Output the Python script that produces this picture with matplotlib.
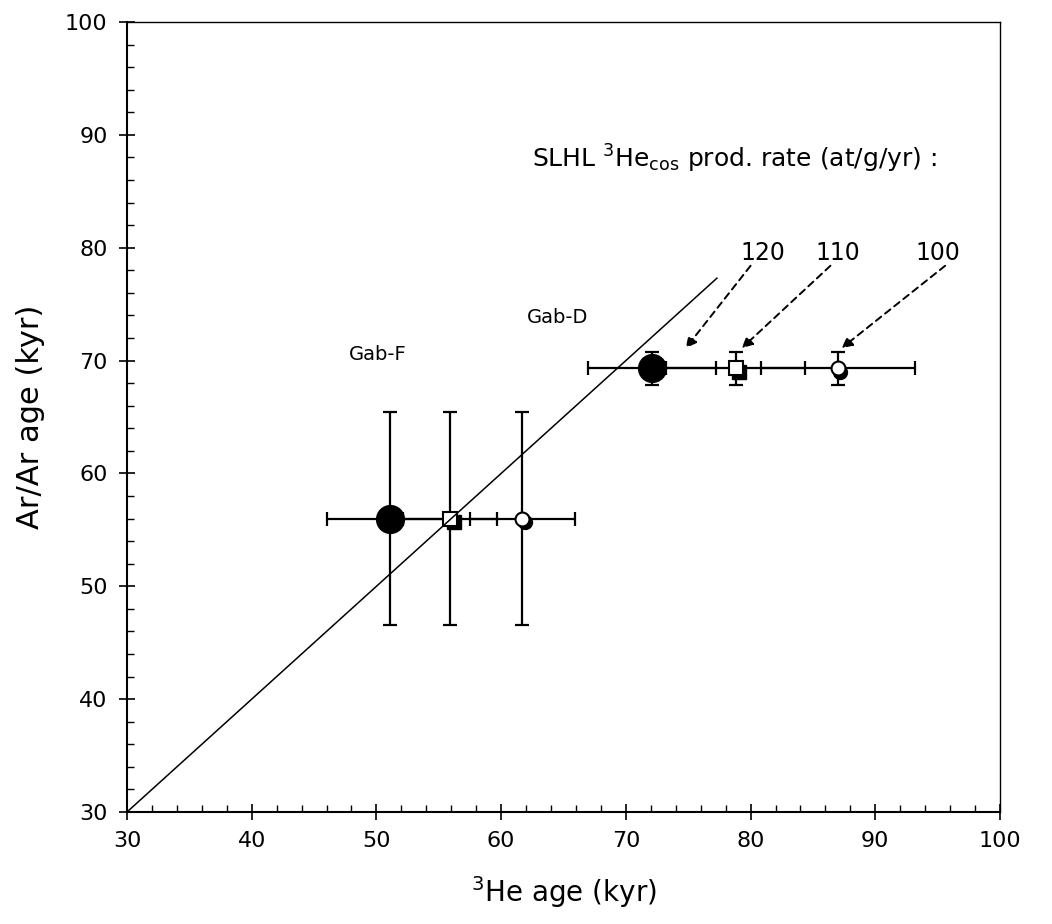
import matplotlib
matplotlib.use('Agg')
import matplotlib.pyplot as plt
from matplotlib.ticker import MultipleLocator

# --- data ---
# Gab-F (lower group) and Gab-D (upper group), for 120 / 110 / 100 at/g/yr
gabF_he = [51.1, 55.9, 61.7]
gabF_he_err = [5.1, 3.8, 4.2]
gabF_ar = [56.0, 56.0, 56.0]
gabF_ar_err = [9.4, 9.4, 9.4]

gabD_he = [72.1, 78.8, 87.0]
gabD_he_err = [5.1, 5.6, 6.2]
gabD_ar = [69.3, 69.3, 69.3]
gabD_ar_err = [1.5, 1.5, 1.5]

# filled markers partly hidden behind the open ones
shadow_he = [56.2, 61.9, 79.1, 87.2]
shadow_ar = [55.7, 55.7, 69.0, 69.0]
shadow_marker = ['s', 'o', 's', 'o']

one_to_one = [30, 77.3]

rate_labels = ['120', '110', '100']
arrow_tips_x = [74.8, 79.3, 87.3]
arrow_starts_x = [80.0, 86.4, 95.6]
arrow_tip_y = 71.1
arrow_start_y = 78.4


def setup_plot_style():
    plt.rcParams['font.family'] = ['DejaVu Sans']
    plt.rcParams['font.size'] = 15
    plt.rcParams['axes.linewidth'] = 1.5


setup_plot_style()
fig = plt.figure(figsize=(10.52, 9.24), dpi=100)
ax = fig.add_axes([0.1207, 0.1212, 0.8299, 0.8550])

ax.plot(one_to_one, one_to_one, color='black', lw=1.1, zorder=6)

err_kw = dict(fmt='none', ecolor='black', elinewidth=1.6, capsize=5, capthick=1.6, zorder=2)
ax.errorbar(gabF_he, gabF_ar, xerr=gabF_he_err, yerr=gabF_ar_err, **err_kw)
ax.errorbar(gabD_he, gabD_ar, xerr=gabD_he_err, yerr=gabD_ar_err, **err_kw)

for x, y, m in zip(shadow_he, shadow_ar, shadow_marker):
    ax.plot(x, y, marker=m, ms=10, color='black', zorder=3)

styles = [dict(marker='o', ms=20, mfc='black', mec='black'),
          dict(marker='s', ms=10, mfc='white', mec='black', mew=1.5),
          dict(marker='o', ms=10, mfc='white', mec='black', mew=1.5)]
for i, st in enumerate(styles):
    ax.plot(gabF_he[i], gabF_ar[i], ls='none', zorder=4, **st)
    ax.plot(gabD_he[i], gabD_ar[i], ls='none', zorder=4, **st)

ax.text(50.1, 70.5, 'Gab-F', fontsize=14, ha='center', va='center')
ax.text(64.5, 73.8, 'Gab-D', fontsize=14, ha='center', va='center')
ax.text(62.5, 87.9, r'SLHL $^{3}$He$_{\rm cos}$ prod. rate (at/g/yr) :',
        fontsize=18, ha='left', va='center')

label_dx = [1.0, 0.6, -0.6]
for lab, tx, sx, dx in zip(rate_labels, arrow_tips_x, arrow_starts_x, label_dx):
    ax.annotate('', xy=(tx, arrow_tip_y), xytext=(sx, arrow_start_y),
                arrowprops=dict(arrowstyle='-|>', linestyle=(0, (3.5, 2.5)), lw=1.4,
                                color='black', mutation_scale=16, shrinkA=0, shrinkB=0))
    ax.text(sx + dx, 79.5, lab, fontsize=17, ha='center', va='center')

ax.set_xlim(30, 100)
ax.set_ylim(30, 100)
ax.xaxis.set_major_locator(MultipleLocator(10))
ax.yaxis.set_major_locator(MultipleLocator(10))
ax.xaxis.set_minor_locator(MultipleLocator(2))
ax.yaxis.set_minor_locator(MultipleLocator(2))
ax.tick_params(which='major', direction='inout', length=12, width=1.2, labelsize=16, pad=8)
ax.tick_params(which='minor', direction='in', length=5, width=1.0)
ax.spines['top'].set_linewidth(1.0)
ax.spines['right'].set_linewidth(1.0)

ax.set_xlabel(r'$^{3}$He age (kyr)', fontsize=20, labelpad=16)
ax.set_ylabel('Ar/Ar age (kyr)', fontsize=22, labelpad=14)

plt.savefig('out.png', dpi=100, facecolor='white')
plt.close('all')
